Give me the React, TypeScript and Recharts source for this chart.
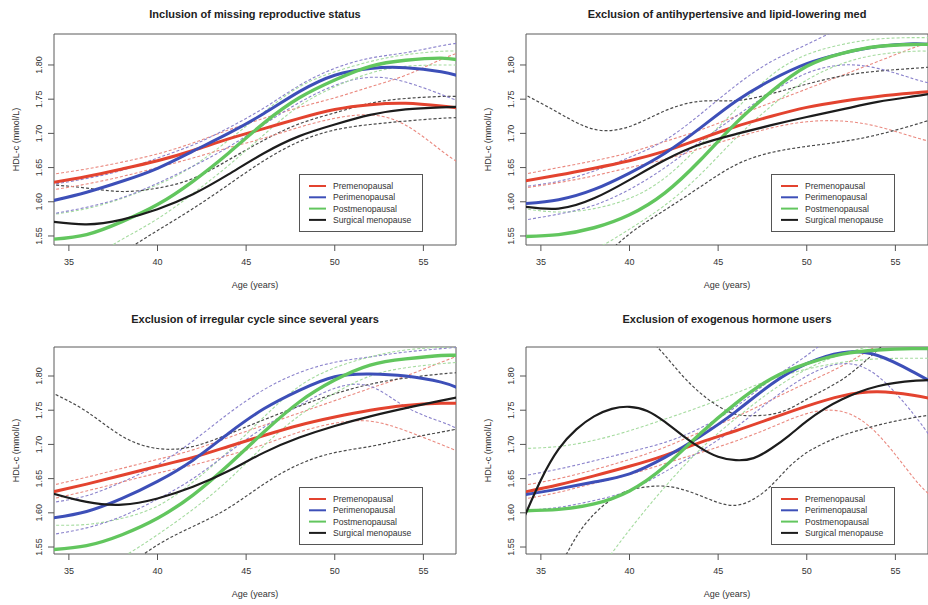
import { LineChart, Line, XAxis, YAxis, ReferenceArea } from "recharts";

// ages sampled every 2 years (+57) for most curves, yearly for the wavy ones
const AGES = [34, 36, 38, 40, 42, 44, 46, 48, 50, 52, 54, 56, 57];
const AGES_1Y = [34, 35, 36, 37, 38, 39, 40, 41, 42, 43, 44, 45, 46, 47, 48, 49, 50, 51, 52, 53, 54, 55, 56, 57];

const X_TICKS = [35, 40, 45, 50, 55];
const Y_TICKS = [1.55, 1.6, 1.65, 1.7, 1.75, 1.8];
const GROUPS = ["Premenopausal", "Perimenopausal", "Postmenopausal", "Surgical menopause"];

// Panel 1 - Inclusion of missing reproductive status
const p1Pre = [1.628, 1.637, 1.648, 1.66, 1.675, 1.692, 1.707, 1.722, 1.735, 1.742, 1.744, 1.74, 1.737];
const p1PreHi = [1.64, 1.648, 1.658, 1.67, 1.686, 1.705, 1.722, 1.738, 1.752, 1.768, 1.785, 1.808, 1.818];
const p1PreLo = [1.617, 1.626, 1.637, 1.65, 1.664, 1.679, 1.693, 1.709, 1.722, 1.727, 1.712, 1.675, 1.657];
const p1Peri = [1.601, 1.614, 1.63, 1.649, 1.674, 1.7, 1.729, 1.761, 1.785, 1.795, 1.796, 1.79, 1.784];
const p1PeriHi = [1.625, 1.634, 1.646, 1.664, 1.683, 1.708, 1.737, 1.77, 1.795, 1.81, 1.818, 1.828, 1.832];
const p1PeriLo = [1.582, 1.592, 1.606, 1.627, 1.652, 1.68, 1.713, 1.745, 1.77, 1.782, 1.775, 1.757, 1.747];
const p1Post = [1.545, 1.552, 1.571, 1.596, 1.63, 1.671, 1.715, 1.752, 1.778, 1.798, 1.807, 1.81, 1.807];
const p1PostHi = [1.581, 1.59, 1.605, 1.625, 1.652, 1.69, 1.731, 1.768, 1.79, 1.805, 1.815, 1.82, 1.82];
const p1PostLo = [1.49, 1.515, 1.545, 1.575, 1.612, 1.653, 1.698, 1.74, 1.768, 1.788, 1.798, 1.8, 1.8];
const p1Surg = [1.571, 1.567, 1.574, 1.589, 1.611, 1.64, 1.671, 1.696, 1.713, 1.727, 1.735, 1.738, 1.739];
const p1SurgHi = [1.625, 1.62, 1.615, 1.62, 1.634, 1.661, 1.69, 1.714, 1.73, 1.744, 1.751, 1.754, 1.754];
const p1SurgLo = [1.46, 1.49, 1.525, 1.558, 1.59, 1.625, 1.66, 1.688, 1.705, 1.713, 1.718, 1.722, 1.723];

// Panel 2 - Exclusion of antihypertensive and lipid-lowering med
const p2Pre = [1.63, 1.639, 1.649, 1.66, 1.674, 1.692, 1.71, 1.725, 1.738, 1.747, 1.754, 1.759, 1.761];
const p2PreHi = [1.64, 1.65, 1.66, 1.672, 1.688, 1.705, 1.725, 1.745, 1.765, 1.785, 1.805, 1.825, 1.833];
const p2PreLo = [1.62, 1.628, 1.638, 1.65, 1.662, 1.678, 1.694, 1.708, 1.717, 1.718, 1.71, 1.695, 1.688];
const p2Peri = [1.597, 1.603, 1.618, 1.642, 1.671, 1.708, 1.747, 1.778, 1.802, 1.817, 1.827, 1.831, 1.83];
const p2PeriHi = [1.622, 1.63, 1.645, 1.665, 1.69, 1.728, 1.77, 1.805, 1.83, 1.855, 1.875, 1.89, 1.9];
const p2PeriLo = [1.573, 1.582, 1.595, 1.618, 1.65, 1.688, 1.725, 1.76, 1.788, 1.8, 1.795, 1.78, 1.773];
const p2Post = [1.549, 1.552, 1.562, 1.581, 1.613, 1.661, 1.715, 1.761, 1.798, 1.817, 1.827, 1.83, 1.83];
const p2PostHi = [1.59, 1.585, 1.59, 1.605, 1.635, 1.683, 1.735, 1.785, 1.815, 1.83, 1.838, 1.84, 1.84];
const p2PostLo = [1.49, 1.51, 1.53, 1.56, 1.595, 1.64, 1.693, 1.74, 1.778, 1.802, 1.815, 1.82, 1.82];
const p2Surg = [1.593, 1.59, 1.605, 1.632, 1.661, 1.684, 1.699, 1.712, 1.724, 1.735, 1.746, 1.754, 1.758];
const p2SurgHi = [1.758, 1.73, 1.706, 1.71, 1.733, 1.747, 1.748, 1.758, 1.772, 1.784, 1.791, 1.795, 1.797];
const p2SurgLo = [1.4, 1.45, 1.505, 1.553, 1.588, 1.622, 1.654, 1.672, 1.681, 1.688, 1.698, 1.712, 1.72];

// Panel 3 - Exclusion of irregular cycle since several years
const p3Pre = [1.63, 1.642, 1.655, 1.668, 1.681, 1.697, 1.713, 1.728, 1.74, 1.75, 1.757, 1.76, 1.76];
const p3PreHi = [1.64, 1.652, 1.665, 1.678, 1.692, 1.71, 1.728, 1.746, 1.764, 1.782, 1.8, 1.82, 1.83];
const p3PreLo = [1.62, 1.632, 1.645, 1.658, 1.67, 1.684, 1.7, 1.718, 1.731, 1.734, 1.72, 1.7, 1.689];
const p3Peri = [1.592, 1.602, 1.621, 1.646, 1.677, 1.716, 1.752, 1.779, 1.799, 1.803, 1.8, 1.791, 1.782];
const p3PeriHi = [1.615, 1.625, 1.645, 1.67, 1.705, 1.745, 1.78, 1.805, 1.82, 1.828, 1.835, 1.84, 1.842];
const p3PeriLo = [1.568, 1.578, 1.595, 1.62, 1.65, 1.688, 1.725, 1.757, 1.782, 1.785, 1.755, 1.733, 1.722];
const p3Post = [1.546, 1.552, 1.568, 1.592, 1.626, 1.67, 1.718, 1.762, 1.794, 1.816, 1.825, 1.83, 1.83];
const p3PostHi = [1.582, 1.583, 1.592, 1.61, 1.645, 1.69, 1.74, 1.785, 1.812, 1.828, 1.838, 1.842, 1.843];
const p3PostLo = [1.49, 1.51, 1.535, 1.568, 1.605, 1.648, 1.698, 1.742, 1.775, 1.8, 1.812, 1.818, 1.82];
const p3Surg = [1.629, 1.616, 1.612, 1.621, 1.638, 1.661, 1.688, 1.71, 1.727, 1.741, 1.753, 1.764, 1.769];
const p3SurgHi = [1.776, 1.748, 1.712, 1.694, 1.697, 1.715, 1.736, 1.756, 1.774, 1.788, 1.797, 1.803, 1.805];
const p3SurgLo = [1.42, 1.47, 1.515, 1.553, 1.58, 1.607, 1.642, 1.671, 1.688, 1.697, 1.708, 1.718, 1.723];

// Panel 4 - Exclusion of exogenous hormone users
const p4Pre = [1.63, 1.641, 1.654, 1.668, 1.684, 1.703, 1.72, 1.738, 1.756, 1.771, 1.777, 1.772, 1.767];
const p4PreHi = [1.64, 1.65, 1.663, 1.678, 1.696, 1.718, 1.74, 1.765, 1.79, 1.815, 1.845, 1.875, 1.89];
const p4PreLo = [1.62, 1.63, 1.643, 1.656, 1.672, 1.688, 1.705, 1.725, 1.745, 1.748, 1.715, 1.652, 1.625];
const p4Peri = [1.626, 1.635, 1.645, 1.657, 1.681, 1.712, 1.748, 1.788, 1.818, 1.834, 1.83, 1.806, 1.792];
const p4PeriHi = [1.654, 1.664, 1.676, 1.689, 1.703, 1.724, 1.755, 1.795, 1.83, 1.87, 1.9, 1.93, 1.94];
const p4PeriLo = [1.603, 1.608, 1.618, 1.633, 1.66, 1.69, 1.725, 1.765, 1.8, 1.818, 1.8, 1.745, 1.71];
const p4Post = [1.603, 1.605, 1.613, 1.632, 1.668, 1.716, 1.76, 1.796, 1.818, 1.832, 1.838, 1.84, 1.84];
const p4PostHi = [1.694, 1.697, 1.706, 1.72, 1.737, 1.755, 1.775, 1.795, 1.81, 1.82, 1.825, 1.826, 1.826];
const p4PostLo = [1.36, 1.43, 1.505, 1.575, 1.638, 1.693, 1.738, 1.778, 1.81, 1.832, 1.845, 1.85, 1.85];
// surgical menopause curves in panel 4 are wavy: yearly values
const p4Surg = [1.59, 1.648, 1.693, 1.722, 1.741, 1.752, 1.755, 1.749, 1.733, 1.713, 1.695, 1.682, 1.677, 1.68, 1.694, 1.713, 1.734, 1.752, 1.766, 1.777, 1.785, 1.79, 1.793, 1.794];
const p4SurgHi = [2.3, 2.25, 2.18, 2.1, 2.02, 1.95, 1.9, 1.86, 1.83, 1.8, 1.775, 1.756, 1.744, 1.742, 1.744, 1.752, 1.766, 1.78, 1.795, 1.815, 1.838, 1.862, 1.885, 1.905];
const p4SurgLo = [1.44, 1.485, 1.52, 1.565, 1.598, 1.62, 1.633, 1.638, 1.639, 1.634, 1.625, 1.615, 1.611, 1.62, 1.64, 1.667, 1.688, 1.702, 1.713, 1.721, 1.728, 1.734, 1.739, 1.743];

const SOLID = ["#e3432f", "#3d4fb8", "#62c65e", "#1c1c1c"];
const DASHED = ["#ea8a80", "#8b83cc", "#a5db9f", "#4a4a4a"];
const WIDTHS = [3, 3, 3.4, 2.2];

const FONT = "'Liberation Sans', Arial, Helvetica, sans-serif";
const X_DOMAIN: [number, number] = [34.16, 56.84];

type Series = { ages: number[]; mid: number[]; hi: number[]; lo: number[] };

const rows = (ages: number[], vals: number[]) => ages.map((age, i) => ({ age, v: vals[i] }));

const YTick = (props: any) => {
  const { x, y, payload } = props;
  const cx = x - 7;
  return (
    <text
      x={cx}
      y={y}
      transform={`rotate(-90 ${cx} ${y})`}
      textAnchor="middle"
      dominantBaseline="central"
      fontSize={9}
      fill="#333"
    >
      {Number(payload.value).toFixed(2)}
    </text>
  );
};

interface PanelProps {
  left: number;
  top: number;
  title: string;
  series: Series[];
  yDomain: [number, number];
  marginTop: number;
  axisHeight: number;
}

function Panel({ left, top, title, series, yDomain, marginTop, axisHeight }: PanelProps) {
  const boxTop = top + marginTop;
  const boxBottom = top + 300 - axisHeight;
  const mid = (boxTop + boxBottom) / 2;
  const legTop = boxTop + 140;
  return (
    <>
      <div style={{ position: "absolute", left, top }}>
        <LineChart width={464} height={300} margin={{ top: marginTop, right: 8, left: 0, bottom: 0 }}>
          <XAxis
            type="number"
            dataKey="age"
            domain={X_DOMAIN}
            allowDataOverflow
            ticks={X_TICKS}
            height={axisHeight}
            tickSize={6}
            tickMargin={8}
            axisLine={false}
            tickLine={{ stroke: "#555" }}
            tick={{ fontSize: 9, fill: "#333" }}
          />
          <YAxis
            type="number"
            domain={yDomain}
            allowDataOverflow
            ticks={Y_TICKS}
            width={54}
            tickSize={6}
            axisLine={false}
            tickLine={{ stroke: "#555" }}
            tick={<YTick />}
          />
          {series.map((s, i) => (
            <Line
              key={`hi${i}`}
              data={rows(s.ages, s.hi)}
              dataKey="v"
              type="natural"
              stroke={DASHED[i]}
              strokeWidth={i === 3 ? 1.2 : 1.1}
              strokeDasharray="3 2"
              dot={false}
              activeDot={false}
              isAnimationActive={false}
            />
          ))}
          {series.map((s, i) => (
            <Line
              key={`lo${i}`}
              data={rows(s.ages, s.lo)}
              dataKey="v"
              type="natural"
              stroke={DASHED[i]}
              strokeWidth={i === 3 ? 1.2 : 1.1}
              strokeDasharray="3 2"
              dot={false}
              activeDot={false}
              isAnimationActive={false}
            />
          ))}
          {series.map((s, i) => (
            <Line
              key={`mid${i}`}
              data={rows(s.ages, s.mid)}
              dataKey="v"
              type="natural"
              stroke={SOLID[i]}
              strokeWidth={WIDTHS[i]}
              dot={false}
              activeDot={false}
              isAnimationActive={false}
            />
          ))}
          <ReferenceArea
            x1={X_DOMAIN[0]}
            x2={X_DOMAIN[1]}
            y1={yDomain[0]}
            y2={yDomain[1]}
            fill="none"
            fillOpacity={0}
            stroke="#5a5a5a"
            strokeWidth={1}
          />
        </LineChart>
      </div>
      <svg
        width={464}
        height={300}
        style={{ position: "absolute", left, top: 0, overflow: "visible", pointerEvents: "none" }}
      >
        <text x={255} y={top + 14} textAnchor="middle" dominantBaseline="central" fontSize={11} fontWeight="bold" fill="#222">
          {title}
        </text>
        <text
          x={15.5}
          y={mid}
          transform={`rotate(-90 15.5 ${mid})`}
          textAnchor="middle"
          dominantBaseline="central"
          fontSize={9}
          fill="#333"
        >
          HDL-c (mmol/L)
        </text>
        <text x={255} y={boxBottom + 40} textAnchor="middle" dominantBaseline="central" fontSize={9} fill="#333">
          Age (years)
        </text>
        <rect x={299.5} y={legTop + 0.5} width={123} height={57} fill="#fff" stroke="#555" strokeWidth={1} />
        {GROUPS.map((g, i) => (
          <g key={g}>
            <line x1={309} x2={326} y1={legTop + 12 + i * 11.3} y2={legTop + 12 + i * 11.3} stroke={SOLID[i]} strokeWidth={2} />
            <text x={333} y={legTop + 12 + i * 11.3} dominantBaseline="central" fontSize={8.6} fill="#333">
              {g}
            </text>
          </g>
        ))}
      </svg>
    </>
  );
}

const panel1: Series[] = [
  { ages: AGES, mid: p1Pre, hi: p1PreHi, lo: p1PreLo },
  { ages: AGES, mid: p1Peri, hi: p1PeriHi, lo: p1PeriLo },
  { ages: AGES, mid: p1Post, hi: p1PostHi, lo: p1PostLo },
  { ages: AGES, mid: p1Surg, hi: p1SurgHi, lo: p1SurgLo },
];
const panel2: Series[] = [
  { ages: AGES, mid: p2Pre, hi: p2PreHi, lo: p2PreLo },
  { ages: AGES, mid: p2Peri, hi: p2PeriHi, lo: p2PeriLo },
  { ages: AGES, mid: p2Post, hi: p2PostHi, lo: p2PostLo },
  { ages: AGES, mid: p2Surg, hi: p2SurgHi, lo: p2SurgLo },
];
const panel3: Series[] = [
  { ages: AGES, mid: p3Pre, hi: p3PreHi, lo: p3PreLo },
  { ages: AGES, mid: p3Peri, hi: p3PeriHi, lo: p3PeriLo },
  { ages: AGES, mid: p3Post, hi: p3PostHi, lo: p3PostLo },
  { ages: AGES, mid: p3Surg, hi: p3SurgHi, lo: p3SurgLo },
];
const panel4: Series[] = [
  { ages: AGES, mid: p4Pre, hi: p4PreHi, lo: p4PreLo },
  { ages: AGES, mid: p4Peri, hi: p4PeriHi, lo: p4PeriLo },
  { ages: AGES, mid: p4Post, hi: p4PostHi, lo: p4PostLo },
  { ages: AGES_1Y, mid: p4Surg, hi: p4SurgHi, lo: p4SurgLo },
];

export default function App() {
  return (
    <div
      style={{
        position: "absolute",
        left: 0,
        top: 0,
        width: 928,
        height: 605,
        overflow: "hidden",
        background: "#fff",
        fontFamily: FONT,
      }}
    >
      <Panel left={0} top={0} title="Inclusion of missing reproductive status" series={panel1} yDomain={[1.5368, 1.8453]} marginTop={34} axisHeight={55} />
      <Panel left={472} top={0} title="Exclusion of antihypertensive and lipid-lowering med" series={panel2} yDomain={[1.5368, 1.8453]} marginTop={34} axisHeight={55} />
      <Panel left={0} top={305} title="Exclusion of irregular cycle since several years" series={panel3} yDomain={[1.5398, 1.8424]} marginTop={42} axisHeight={51} />
      <Panel left={472} top={305} title="Exclusion of exogenous hormone users" series={panel4} yDomain={[1.5398, 1.8424]} marginTop={42} axisHeight={51} />
    </div>
  );
}
